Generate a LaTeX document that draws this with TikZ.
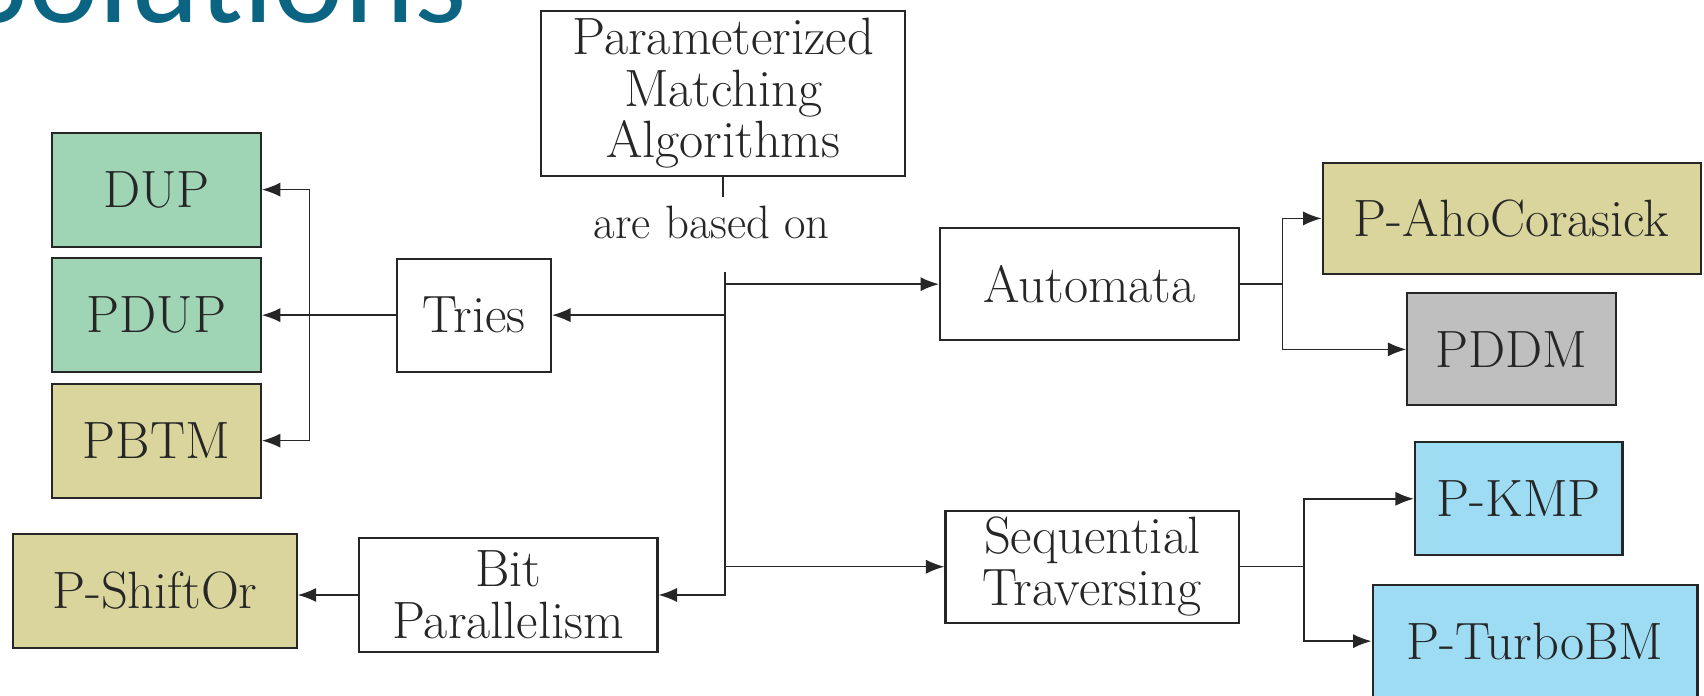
\documentclass[tikz,border=0pt]{standalone}
\usepackage{fontspec}
\newfontfamily\titlefont{Carlito}
\usetikzlibrary{arrows.meta,positioning,calc}
\definecolor{ink}{HTML}{262626}
\definecolor{titleblue}{HTML}{0B6481}
\definecolor{greenfill}{HTML}{9FD4B5}
\definecolor{olivefill}{HTML}{D9D59D}
\definecolor{grayfill}{HTML}{BFBFBF}
\definecolor{bluefill}{HTML}{9DDCF3}
\tikzset{
  boxbase/.style={draw=ink, line width=1.1pt, align=center, inner sep=2pt, font=\fontsize{27.5}{27}\selectfont, text=ink},
  boxwhite/.style={boxbase, fill=white},
  boxgreen/.style={boxbase, fill=greenfill},
  boxolive/.style={boxbase, fill=olivefill},
  boxgray/.style={boxbase, fill=grayfill},
  boxblue/.style={boxbase, fill=bluefill},
  flow/.style={-{Latex[length=3.4mm,width=2.6mm]}, line width=0.8pt, draw=ink},
  wire/.style={line width=0.8pt, draw=ink},
  note/.style={font=\fontsize{24.5}{26}\selectfont, text=ink}
}
\begin{document}
\begin{tikzpicture}[x=1cm,y=1cm]
\useasboundingbox (0,0) rectangle (31.36,12.8);
\node[anchor=base west, inner sep=0pt, font=\titlefont\fontsize{70}{70}\selectfont, text=titleblue] (heading) at (-0.62,12.38) {Solutions};

% Root
\node[boxwhite, minimum width=6.7cm, minimum height=3.04cm] (pma) at (13.31,11.08) {Parameterized\\Matching\\Algorithms};
\node[note] (based) at (13.1,8.7) {are based on};
\draw[wire] (pma.south) -- ++(0,-0.36);
\coordinate (trunk) at (13.34,7.8);

% Approaches
\node[boxwhite, minimum width=2.84cm, minimum height=2.08cm] (tries) at (8.72,7.0) {Tries};
\node[boxwhite, minimum width=5.5cm, minimum height=2.06cm] (automata) at (20.05,7.57) {Automata};
\node[boxwhite, minimum width=5.4cm, minimum height=2.06cm] (seq) at (20.1,2.37) {Sequential\\Traversing};
\node[boxwhite, minimum width=5.5cm, minimum height=2.1cm] (bitpar) at (9.35,1.85) {Bit\\Parallelism};
\draw[flow] (trunk) |- (bitpar.east);
\draw[flow] (trunk |- tries) -- (tries.east);
\draw[flow] (trunk |- automata) -- (automata.west);
\draw[flow] (trunk |- seq) -- (seq.west);

% Tries algorithms
\node[boxgreen, minimum width=3.84cm, minimum height=2.1cm] (dup) at (2.88,9.31) {DUP};
\node[boxgreen, minimum width=3.84cm, minimum height=2.1cm] (pdup) at (2.88,7.0) {PDUP};
\node[boxolive, minimum width=3.84cm, minimum height=2.1cm] (pbtm) at (2.88,4.69) {PBTM};
\coordinate (tb) at (5.7,7.0);
\draw[flow] (tries.west) -- (pdup.east);
\draw[flow] (tb) |- (dup.east);
\draw[flow] (tb) |- (pbtm.east);

% Automata algorithms
\node[boxolive, minimum width=6.96cm, minimum height=2.04cm] (aho) at (27.82,8.78) {P-AhoCorasick};
\node[boxgray, minimum width=3.84cm, minimum height=2.06cm] (pddm) at (27.82,6.37) {PDDM};
\coordinate (ab) at (23.6,7.57);
\draw[wire] (automata.east) -- (ab);
\draw[flow] (ab) |- (aho.west);
\draw[flow] (ab) |- (pddm.west);

% Sequential algorithms
\node[boxblue, minimum width=3.82cm, minimum height=2.08cm] (kmp) at (27.95,3.62) {P-KMP};
\node[boxblue, minimum width=5.98cm, minimum height=2.08cm] (turbo) at (28.25,1.0) {P-TurboBM};
\coordinate (sb) at (24.0,2.37);
\draw[wire] (seq.east) -- (sb);
\draw[flow] (sb) |- (kmp.west);
\draw[flow] (sb) |- (turbo.west);

% Bit parallel algorithm
\node[boxolive, minimum width=5.22cm, minimum height=2.1cm] (shiftor) at (2.85,1.93) {P-ShiftOr};
\draw[flow] (bitpar.west) -- (bitpar.west -| shiftor.east);
\end{tikzpicture}
\end{document}
